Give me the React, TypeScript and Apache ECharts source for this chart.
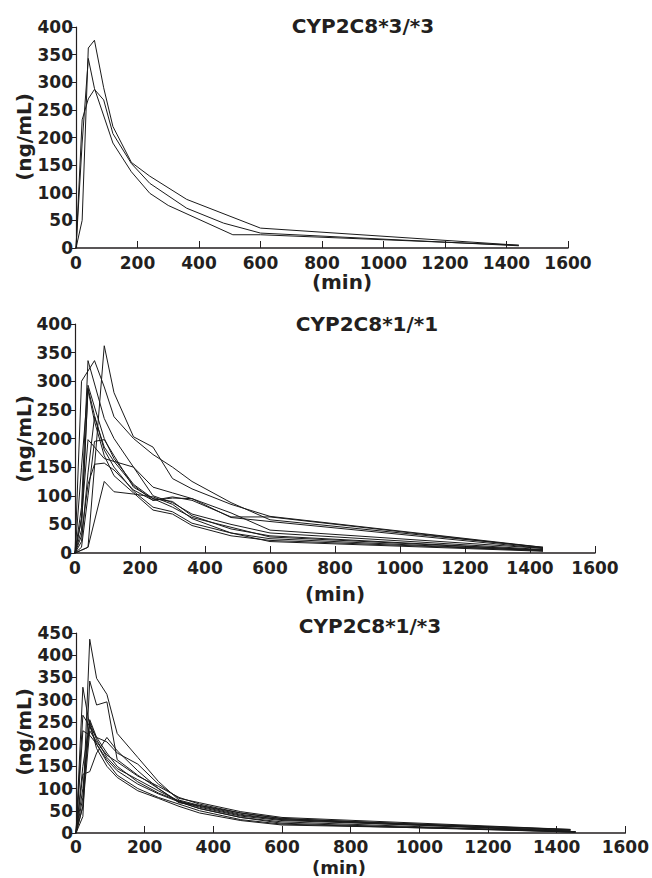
import React, { useEffect, useRef } from "react";
import * as echarts from "echarts";

// ---- data: [time (min), concentration (ng/mL)] per subject ----
const TITLES = ["CYP2C8*3/*3", "CYP2C8*1/*1", "CYP2C8*1/*3"];
const X_TICKS = [0, 200, 400, 600, 800, 1000, 1200, 1400, 1600];
const Y_MAX = [400, 400, 450];

const G33_S1 = [[0, 0], [20, 50], [40, 362], [60, 376], [90, 290], [120, 220], [180, 155], [240, 130], [360, 88], [600, 36], [1440, 5]];
const G33_S2 = [[0, 0], [20, 190], [40, 343], [60, 289], [120, 190], [180, 138], [240, 99], [300, 77], [510, 24], [600, 24], [1440, 5]];
const G33_S3 = [[0, 0], [20, 232], [40, 270], [60, 287], [90, 268], [120, 207], [180, 153], [240, 117], [360, 72], [480, 45], [600, 27], [1440, 4]];

const G11_S1 = [[0, 0], [20, 5], [40, 10], [90, 362], [120, 280], [180, 203], [240, 185], [300, 130], [360, 112], [480, 85], [600, 64], [1440, 10]];
const G11_S2 = [[0, 0], [20, 300], [60, 336], [90, 290], [120, 238], [180, 200], [240, 172], [300, 150], [360, 125], [480, 88], [600, 58], [1440, 10]];
const G11_S3 = [[0, 0], [20, 80], [40, 336], [90, 235], [120, 200], [180, 150], [240, 100], [300, 88], [360, 68], [480, 50], [600, 35], [1440, 6]];
const G11_S4 = [[0, 0], [20, 150], [40, 293], [60, 255], [90, 200], [120, 165], [180, 120], [240, 95], [300, 90], [360, 65], [480, 42], [600, 30], [1440, 5]];
const G11_S5 = [[0, 0], [20, 40], [40, 288], [60, 240], [90, 180], [120, 150], [180, 108], [240, 80], [300, 72], [360, 52], [480, 35], [600, 25], [1440, 4]];
const G11_S6 = [[0, 0], [20, 20], [40, 140], [60, 238], [90, 185], [120, 160], [180, 118], [240, 92], [300, 96], [360, 95], [480, 70], [600, 40], [1440, 8]];
const G11_S7 = [[0, 0], [20, 60], [40, 198], [60, 185], [90, 165], [120, 160], [180, 150], [240, 115], [300, 105], [360, 95], [480, 62], [600, 55], [1440, 8]];
const G11_S8 = [[0, 0], [20, 10], [40, 100], [60, 195], [90, 198], [120, 170], [180, 115], [240, 95], [300, 80], [360, 62], [480, 45], [600, 28], [1440, 5]];
const G11_S9 = [[0, 0], [20, 30], [40, 120], [60, 155], [90, 157], [120, 145], [180, 110], [240, 92], [300, 98], [360, 92], [480, 63], [600, 63], [1440, 9]];
const G11_S10 = [[0, 0], [20, 5], [40, 10], [90, 125], [120, 107], [180, 103], [240, 98], [300, 85], [360, 60], [480, 35], [600, 20], [1440, 3]];
const G11_S11 = [[0, 0], [20, 60], [40, 285], [60, 230], [90, 170], [120, 135], [180, 105], [240, 75], [300, 68], [360, 48], [480, 30], [600, 22], [1440, 4]];

const G13_S1 = [[0, 0], [20, 60], [40, 436], [60, 348], [90, 312], [120, 224], [180, 170], [240, 116], [300, 74], [360, 62], [480, 42], [600, 30], [1440, 8]];
const G13_S2 = [[0, 0], [20, 37], [40, 342], [60, 288], [90, 295], [120, 165], [180, 130], [240, 100], [300, 70], [360, 55], [480, 35], [600, 22], [1455, 2]];
const G13_S3 = [[0, 0], [20, 328], [40, 240], [60, 200], [90, 165], [120, 140], [180, 110], [240, 88], [300, 70], [360, 55], [480, 35], [600, 25], [1455, 2]];
const G13_S4 = [[0, 0], [20, 265], [40, 240], [60, 215], [90, 180], [120, 150], [180, 115], [240, 90], [300, 72], [360, 58], [480, 38], [600, 28], [1440, 6]];
const G13_S5 = [[0, 0], [20, 230], [40, 220], [60, 200], [90, 160], [120, 130], [180, 100], [240, 80], [300, 65], [360, 50], [480, 30], [600, 20], [1455, 2]];
const G13_S6 = [[0, 0], [20, 132], [40, 138], [60, 180], [90, 215], [120, 185], [180, 140], [240, 100], [300, 68], [360, 62], [480, 45], [600, 32], [1440, 7]];
const G13_S7 = [[0, 0], [20, 100], [40, 255], [60, 215], [90, 205], [120, 180], [180, 155], [240, 110], [300, 78], [360, 68], [480, 48], [600, 35], [1440, 8]];
const G13_S8 = [[0, 0], [20, 80], [40, 250], [60, 210], [90, 170], [120, 145], [180, 120], [240, 95], [300, 72], [360, 60], [480, 40], [600, 30], [1455, 3]];
const G13_S9 = [[0, 0], [20, 150], [40, 248], [60, 190], [90, 150], [120, 125], [180, 95], [240, 78], [300, 60], [360, 45], [480, 28], [600, 18], [1440, 5]];
const G13_S10 = [[0, 0], [20, 60], [40, 230], [60, 205], [90, 175], [120, 160], [180, 128], [240, 105], [300, 80], [360, 65], [480, 45], [600, 33], [1455, 3]];

const PANELS = [
  [G33_S1, G33_S2, G33_S3],
  [G11_S1, G11_S2, G11_S3, G11_S4, G11_S5, G11_S6, G11_S7, G11_S8, G11_S9, G11_S10, G11_S11],
  [G13_S1, G13_S2, G13_S3, G13_S4, G13_S5, G13_S6, G13_S7, G13_S8, G13_S9, G13_S10],
];

// ---- layout ----
const FONT = "DejaVu Sans";
const INK = "#231f20";
const GRIDS = [
  { left: 76, top: 27, width: 492, height: 221 },
  { left: 75, top: 324, width: 520, height: 229 },
  { left: 76, top: 633, width: 551, height: 200 },
];
const TITLE_POS = [[363, 26], [367, 324], [370, 626]];
const XNAME_POS = [[342, 282], [335, 594], [339, 867]];
const XNAME_SIZE = [20, 20, 18];
const YNAME_POS = [[24, 137], [24, 439], [24, 732]];
const XLABEL_MARGIN = [7, 7, 6];

export default function App() {
  const ref = useRef<HTMLDivElement>(null);
  useEffect(() => {
    if (!ref.current) return;
    const chart = echarts.init(ref.current, null, { renderer: "svg" });
    const labelStyle = {
      color: INK,
      fontFamily: FONT,
      fontWeight: "bold" as const,
      fontSize: 17,
      lineHeight: 15,
      formatter: (v: number) => String(v),
    };
    const xAxis = GRIDS.map((_, i) => ({
      type: "value" as const,
      gridIndex: i,
      min: X_TICKS[0],
      max: X_TICKS[X_TICKS.length - 1],
      interval: X_TICKS[1] - X_TICKS[0],
      axisLine: { show: true, onZero: false, lineStyle: { color: INK, width: 1.5 } },
      axisTick: { show: true, inside: true, length: 7, lineStyle: { color: INK, width: 1 } },
      axisLabel: { ...labelStyle, margin: XLABEL_MARGIN[i], showMinLabel: true, showMaxLabel: true },
      splitLine: { show: false },
    }));
    const yAxis = GRIDS.map((_, i) => ({
      type: "value" as const,
      gridIndex: i,
      min: 0,
      max: Y_MAX[i],
      interval: 50,
      axisLine: { show: true, onZero: false, lineStyle: { color: INK, width: 1.2 } },
      axisTick: { show: true, inside: false, length: 4, lineStyle: { color: INK, width: 1 } },
      axisLabel: { ...labelStyle, margin: 3, showMinLabel: true, showMaxLabel: true },
      splitLine: { show: false },
    }));
    const series: any[] = [];
    PANELS.forEach((subjects, gi) => {
      subjects.forEach((pts) => {
        series.push({
          type: "line",
          xAxisIndex: gi,
          yAxisIndex: gi,
          data: pts,
          symbol: "none",
          lineStyle: { color: "#1a1a1a", width: 1 },
          silent: true,
        });
      });
    });
    const graphic: any[] = [];
    TITLES.forEach((t, i) => {
      graphic.push({
        type: "text",
        x: TITLE_POS[i][0],
        y: TITLE_POS[i][1],
        style: { text: t, font: `bold 20px "${FONT}"`, fill: INK, textAlign: "center", textVerticalAlign: "middle" },
      });
      graphic.push({
        type: "text",
        x: XNAME_POS[i][0],
        y: XNAME_POS[i][1],
        style: {
          text: "(min)",
          font: `bold ${XNAME_SIZE[i]}px "${FONT}"`,
          lineHeight: XNAME_SIZE[i] - 4,
          fill: INK,
          textAlign: "center",
          textVerticalAlign: "middle",
        },
      });
      graphic.push({
        type: "text",
        x: YNAME_POS[i][0],
        y: YNAME_POS[i][1],
        rotation: Math.PI / 2,
        style: { text: "(ng/mL)", font: `bold 20px "${FONT}"`, fill: INK, textAlign: "center", textVerticalAlign: "middle" },
      });
    });
    chart.setOption({
      animation: false,
      backgroundColor: "#ffffff",
      grid: GRIDS.map((g) => ({ ...g, containLabel: false })),
      xAxis,
      yAxis,
      series,
      graphic,
    });
    return () => chart.dispose();
  }, []);
  return <div ref={ref} style={{ position: "absolute", left: 0, top: 0, width: 652, height: 878 }} />;
}
